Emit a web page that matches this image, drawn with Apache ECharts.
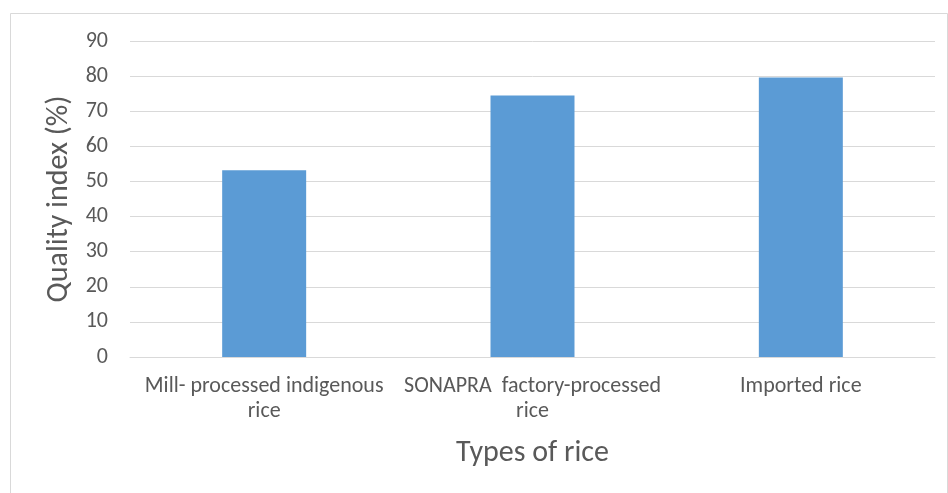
<!DOCTYPE html>
<html><head><meta charset="utf-8">
<script src="https://cdn.jsdelivr.net/npm/echarts@6/dist/echarts.min.js"></script>
<style>html,body{margin:0;padding:0;background:#fff}#c{width:948px;height:493px}</style>
</head><body><div id="c"></div>
<script>
const categories = ['Mill- processed indigenous\nrice', 'SONAPRA  factory-processed\nrice', 'Imported rice'];
const values = [53.2, 74.5, 79.6];
const yTicks = {min: 0, max: 90, interval: 10};
const xTitle = 'Types of rice';
const yTitle = 'Quality index (%)';

const FONT = '"Liberation Sans Narrow", Carlito, "Open Sans", sans-serif';
const chart = echarts.init(document.getElementById('c'), null, {renderer: 'canvas'});
chart.setOption({
  animation: false,
  backgroundColor: '#fff',
  graphic: [{type: 'rect', shape: {x: 10.5, y: 13.5, width: 937, height: 500}, style: {fill: 'none', stroke: '#d9d9d9', lineWidth: 1}, silent: true}],
  grid: {left: 130, right: 13, top: 41, bottom: 136, containLabel: false},
  xAxis: {
    type: 'category', data: categories,
    axisLine: {lineStyle: {color: '#d9d9d9', width: 1}},
    axisTick: {show: false},
    axisLabel: {color: '#595959', fontSize: 22, fontFamily: FONT, lineHeight: 25, margin: 17, interval: 0},
    name: xTitle, nameLocation: 'middle', nameGap: 81,
    nameTextStyle: {color: '#595959', fontSize: 30, fontFamily: FONT}
  },
  yAxis: {
    type: 'value', min: yTicks.min, max: yTicks.max, interval: yTicks.interval,
    axisLine: {show: false}, axisTick: {show: false},
    splitLine: {lineStyle: {color: '#d9d9d9', width: 1}},
    axisLabel: {color: '#595959', fontSize: 22, fontFamily: FONT, margin: 22},
    name: yTitle, nameLocation: 'middle', nameGap: 55, nameRotate: 90,
    nameTextStyle: {color: '#595959', fontSize: 30, fontFamily: FONT}
  },
  series: [{type: 'bar', data: values, barWidth: '31.3%', itemStyle: {color: '#5b9bd5'}, silent: true}]
});
</script></body></html>
